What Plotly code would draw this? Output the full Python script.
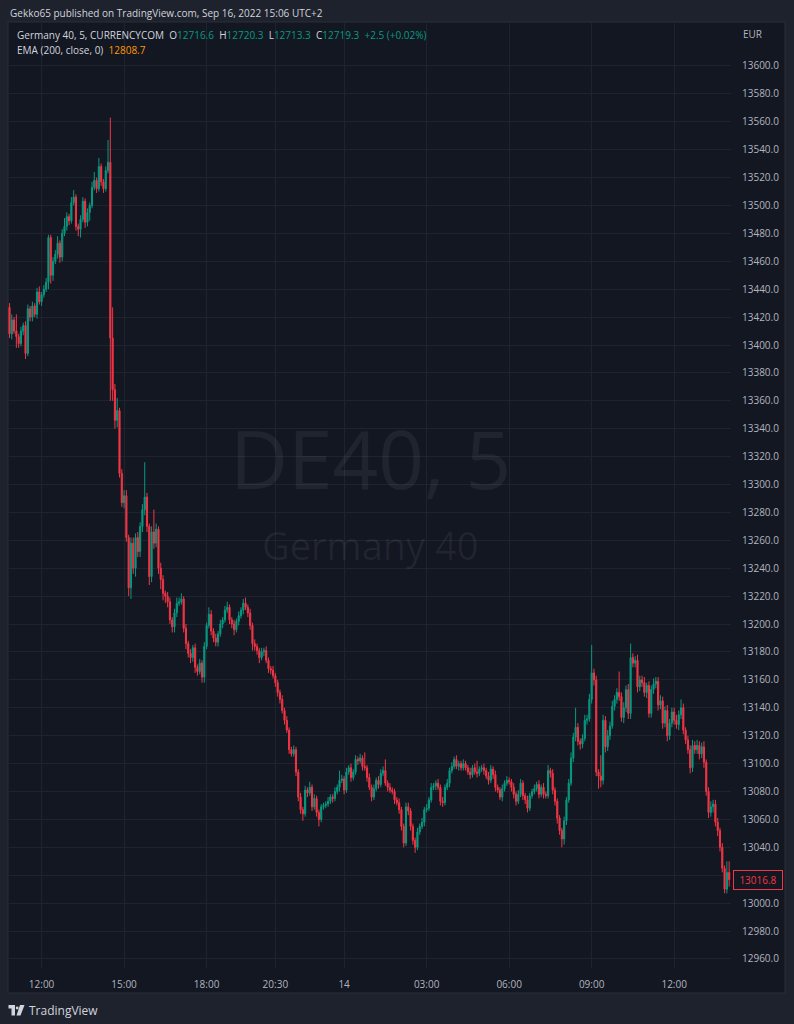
import numpy as np
import plotly.graph_objects as go

W, H = 794, 1024

# ---------------- data ----------------
first_open = 13427.0
closes = [
    13408, 13418, 13410, 13406, 13401, 13410, 13414, 13394, 13426, 13420,
    13428, 13422, 13438, 13431, 13436, 13440, 13445, 13477, 13450, 13460,
    13465, 13473, 13463, 13480, 13485, 13492, 13489, 13502, 13506, 13485,
    13483, 13490, 13503, 13488, 13495, 13500, 13513, 13518, 13512, 13528,
    13517, 13512, 13525, 13531, 13405, 13368, 13346, 13353, 13308, 13287,
    13292, 13262, 13226, 13258, 13240, 13262, 13252, 13270, 13282, 13291,
    13270, 13234, 13266, 13258, 13268, 13240, 13232, 13222, 13220, 13216,
    13203, 13198, 13208, 13215, 13216, 13218, 13197, 13186, 13179, 13176,
    13183, 13169, 13166, 13172, 13162, 13184, 13199, 13207, 13195, 13190,
    13187, 13193, 13200, 13203, 13210, 13212, 13203, 13200, 13196, 13202,
    13206, 13210, 13215, 13212, 13208, 13199, 13186, 13184, 13181, 13176,
    13180, 13181, 13174, 13168, 13167, 13163, 13158, 13151, 13146, 13138,
    13131, 13124, 13110, 13107, 13110, 13094, 13076, 13067, 13064, 13081,
    13079, 13083, 13069, 13075, 13065, 13060, 13069, 13070, 13071, 13073,
    13076, 13075, 13080, 13083, 13088, 13089, 13081, 13094, 13097, 13090,
    13094, 13103, 13102, 13104, 13098, 13097, 13090, 13083, 13076, 13082,
    13088, 13085, 13093, 13095, 13086, 13083, 13081, 13080, 13074, 13072,
    13067, 13055, 13043, 13069, 13066, 13055, 13045, 13040, 13051, 13055,
    13058, 13067, 13068, 13074, 13083, 13084, 13086, 13083, 13073, 13072,
    13083, 13086, 13095, 13098, 13103, 13098, 13100, 13097, 13100, 13097,
    13094, 13092, 13097, 13094, 13093, 13096, 13097, 13095, 13091, 13088,
    13096, 13092, 13083, 13081, 13076, 13082, 13086, 13088, 13087, 13083,
    13078, 13073, 13078, 13086, 13077, 13074, 13068, 13077, 13080, 13082,
    13085, 13078, 13083, 13078, 13077, 13095, 13093, 13081, 13073, 13061,
    13052, 13046, 13059, 13074, 13086, 13104, 13119, 13126, 13116, 13114,
    13118, 13131, 13132, 13146, 13165, 13160, 13094, 13091, 13088, 13131,
    13112, 13120, 13127, 13141, 13146, 13151, 13148, 13133, 13140, 13153,
    13136, 13176, 13172, 13174, 13155, 13160, 13158, 13151, 13156, 13136,
    13153, 13157, 13159, 13142, 13145, 13129, 13138, 13120, 13129, 13137,
    13131, 13128, 13135, 13140, 13124, 13117, 13110, 13097, 13113, 13110,
    13113, 13107, 13112, 13101, 13080, 13065, 13069, 13071, 13058, 13052,
    13040, 13025, 13010, 13022, 13016.8,
]
upper_wick = [
    3, 4, 2, 12, 2, 3, 2, 3, 3, 2,
    3, 2, 3, 4, 2, 3, 3, 2, 2, 3,
    3, 5, 2, 3, 6, 3, 2, 4, 5, 2,
    2, 3, 3, 2, 3, 2, 4, 6, 2, 6,
    2, 2, 3, 16, 32, 22, 4, 9, 2, 3,
    4, 4, 2, 4, 4, 3, 4, 3, 4, 25,
    3, 2, 4, 16, 4, 2, 4, 3, 2, 3,
    3, 2, 3, 4, 3, 4, 2, 3, 2, 3,
    2, 3, 2, 3, 2, 3, 2, 5, 3, 2,
    3, 2, 3, 2, 3, 4, 2, 2, 3, 2,
    3, 2, 3, 4, 2, 3, 2, 3, 2, 2,
    3, 2, 3, 2, 2, 3, 2, 2, 2, 3,
    2, 3, 2, 2, 3, 2, 2, 3, 2, 3,
    2, 4, 2, 3, 2, 2, 2, 2, 2, 3,
    2, 2, 3, 2, 7, 3, 2, 3, 2, 3,
    2, 3, 2, 3, 2, 10, 2, 3, 2, 3,
    2, 3, 3, 3, 8, 2, 3, 2, 2, 2,
    3, 2, 2, 3, 3, 2, 2, 2, 3, 2,
    3, 2, 3, 2, 3, 2, 2, 3, 2, 3,
    2, 3, 2, 3, 2, 3, 2, 2, 3, 2,
    2, 3, 2, 3, 8, 2, 2, 3, 2, 3,
    3, 2, 3, 2, 2, 3, 2, 3, 2, 2,
    3, 2, 3, 3, 2, 2, 3, 2, 2, 3,
    2, 3, 2, 3, 2, 4, 2, 3, 2, 2,
    2, 2, 3, 2, 3, 4, 3, 14, 3, 2,
    3, 4, 3, 4, 20, 3, 3, 2, 15, 4,
    3, 4, 3, 4, 3, 3, 15, 3, 4, 3,
    4, 10, 3, 3, 4, 3, 3, 4, 2, 3,
    3, 4, 3, 3, 4, 3, 3, 4, 3, 3,
    3, 4, 3, 6, 3, 2, 3, 3, 4, 3,
    4, 3, 3, 4, 2, 3, 4, 3, 3, 3,
    2, 3, 2, 8, 8,
]
lower_wick = [
    3, 4, 2, 8, 3, 2, 3, 4, 2, 3,
    3, 2, 3, 2, 3, 2, 2, 5, 6, 4,
    2, 3, 4, 3, 2, 3, 3, 2, 2, 3,
    5, 6, 2, 4, 3, 6, 2, 2, 3, 2,
    3, 3, 2, 2, 45, 8, 6, 5, 3, 3,
    4, 3, 6, 8, 4, 6, 4, 4, 4, 4,
    4, 6, 4, 4, 3, 4, 7, 5, 5, 4,
    3, 4, 4, 3, 2, 2, 3, 4, 3, 4,
    3, 4, 3, 2, 4, 4, 2, 2, 3, 3,
    3, 3, 2, 3, 2, 2, 3, 3, 4, 2,
    3, 2, 3, 2, 3, 3, 5, 3, 3, 4,
    2, 3, 2, 3, 3, 2, 3, 3, 3, 2,
    3, 2, 3, 2, 2, 3, 3, 3, 5, 2,
    3, 2, 3, 2, 3, 5, 2, 2, 2, 2,
    2, 3, 2, 2, 3, 2, 3, 2, 2, 3,
    2, 2, 3, 2, 3, 2, 3, 2, 3, 2,
    2, 3, 2, 2, 2, 3, 2, 2, 3, 2,
    3, 3, 3, 2, 3, 3, 3, 4, 2, 2,
    2, 3, 2, 2, 2, 2, 3, 2, 3, 3,
    2, 2, 3, 2, 2, 2, 3, 2, 2, 2,
    2, 3, 2, 2, 3, 2, 2, 3, 2, 3,
    2, 3, 3, 2, 2, 3, 2, 2, 2, 3,
    3, 3, 2, 2, 3, 3, 3, 2, 2, 2,
    2, 3, 2, 3, 2, 2, 3, 3, 3, 4,
    3, 6, 4, 3, 2, 2, 3, 3, 3, 4,
    3, 2, 3, 2, 3, 4, 3, 9, 5, 3,
    4, 3, 3, 2, 3, 3, 3, 3, 4, 3,
    4, 4, 3, 3, 4, 3, 3, 3, 4, 3,
    3, 3, 3, 4, 3, 4, 3, 4, 3, 3,
    3, 3, 4, 3, 3, 3, 3, 4, 3, 3,
    3, 4, 3, 4, 3, 4, 3, 4, 3, 4,
    3, 3, 3, 3, 5,
]
time_tick_pos = [14, 50, 86, 116, 146, 182, 218, 254, 290]
time_tick_labels = ["12:00", "15:00", "18:00", "20:30", "14", "03:00", "06:00", "09:00", "12:00"]
price_ticks = list(range(12960, 13601, 20))
last_price = 13016.8

# ---------------- build OHLC table ----------------
c = np.array(closes, dtype=float)
o = np.concatenate([[first_open], c[:-1]])
hi = np.maximum(o, c) + np.array(upper_wick, dtype=float)
lo = np.minimum(o, c) - np.array(lower_wick, dtype=float)
idx = np.arange(len(c))

UP = "#089981"
DN = "#f23645"
PANE = "#131722"
OUTER = "#1e222d"
GRID = "#1f2330"
TXT = "#b2b5be"
TXT2 = "#d1d4dc"
FONT = "Open Sans"

def px(x):
    return x / W

def py(y):
    return 1 - y / H

# the price-scale label hidden behind the last-price box in the reference
price_tick_text = ["" if abs(v - last_price) < 10 else f"{v:.1f}" for v in price_ticks]

fig = go.Figure()
fig.add_trace(go.Candlestick(
    x=idx, open=o, high=hi, low=lo, close=c,
    increasing=dict(line=dict(color=UP, width=1), fillcolor=UP),
    decreasing=dict(line=dict(color=DN, width=1), fillcolor=DN),
    whiskerwidth=0, showlegend=False, hoverinfo="skip",
))

x0, x1 = -0.65, 314.8
fig.update_layout(
    width=W, height=H,
    margin=dict(l=0, r=0, t=0, b=0),
    paper_bgcolor=OUTER, plot_bgcolor=PANE,
    font=dict(family=FONT, color=TXT, size=10),
    showlegend=False,
    xaxis=dict(
        domain=[px(8), px(731)], range=[x0, x1],
        rangeslider=dict(visible=False),
        tickmode="array", tickvals=time_tick_pos, ticktext=time_tick_labels,
        showgrid=True, gridcolor=GRID, gridwidth=1, zeroline=False, showline=False,
        ticks="", ticklabelstandoff=9, tickfont=dict(size=10, color=TXT),
        fixedrange=True,
    ),
    yaxis=dict(
        domain=[py(968), py(22)], range=[12953.5, 13631.5],
        side="right", tickmode="array", tickvals=price_ticks,
        ticktext=price_tick_text,
        showgrid=True, gridcolor=GRID, gridwidth=1, zeroline=False, showline=False,
        ticks="", ticklabelstandoff=10, tickfont=dict(size=10, color=TXT),
        fixedrange=True,
    ),
)

shapes = [
    # chart frame (pane + scales)
    dict(type="rect", xref="paper", yref="paper", x0=px(8), x1=px(785), y0=py(993), y1=py(22),
         fillcolor=PANE, line=dict(color="#2a2e39", width=1), layer="below"),
    # TradingView logo (footer)
    dict(type="rect", xref="paper", yref="paper", x0=px(8.5), x1=px(15), y0=py(1008.5), y1=py(1005),
         fillcolor=TXT2, line=dict(width=0)),
    dict(type="rect", xref="paper", yref="paper", x0=px(11.5), x1=px(15), y0=py(1015.5), y1=py(1005),
         fillcolor=TXT2, line=dict(width=0)),
    dict(type="circle", xref="paper", yref="paper", x0=px(15.8), x1=px(18.6), y0=py(1009.4), y1=py(1006.6),
         fillcolor=TXT2, line=dict(width=0)),
    dict(type="path", xref="paper", yref="paper",
         path=f"M {px(20)},{py(1005)} L {px(24.5)},{py(1005)} L {px(20.5)},{py(1015.5)} L {px(16.5)},{py(1015.5)} Z",
         fillcolor=TXT2, line=dict(width=0)),
]
fig.update_layout(shapes=shapes)

nb = "\u00a0"
def g(v):
    return f"<span style='color:{UP}'>{v}</span>"

legend_line = (
    f"Germany 40, 5, CURRENCYCOM{nb}{nb}O{g('12716.6')}{nb}{nb}H{g('12720.3')}{nb}{nb}"
    f"L{g('12713.3')}{nb}{nb}C{g('12719.3')}{nb}{nb}{g('+2.5 (+0.02%)')}"
)

annotations = [
    dict(text="Gekko65 published on TradingView.com, Sep 16, 2022 15:06 UTC+2",
         x=px(8), y=py(13), xanchor="left", yanchor="middle",
         font=dict(size=10, color=TXT2)),
    dict(text=legend_line, x=px(15), y=py(35), xanchor="left", yanchor="middle",
         font=dict(size=10, color=TXT2)),
    dict(text=f"EMA (200, close, 0){nb}{nb}<span style='color:#ff9800'>12808.7</span>",
         x=px(15), y=py(50), xanchor="left", yanchor="middle",
         font=dict(size=10, color=TXT2)),
    dict(text="EUR", x=px(741), y=py(34), xanchor="left", yanchor="middle",
         font=dict(size=10, color=TXT)),
    dict(text="DE40, 5", x=px(370), y=py(457), xanchor="center", yanchor="middle",
         font=dict(size=80, color="rgba(255,255,255,0.06)")),
    dict(text="Germany 40", x=px(370), y=py(545), xanchor="center", yanchor="middle",
         font=dict(size=38, color="rgba(255,255,255,0.06)")),
    dict(text="TradingView", x=px(27), y=py(1010), xanchor="left", yanchor="middle",
         font=dict(size=12, color=TXT2)),
    dict(text=f"{last_price:.1f}", xref="paper", yref="y", x=px(733), y=last_price,
         xanchor="left", yanchor="middle", showarrow=False, width=44, align="center",
         font=dict(size=10, color=DN), bgcolor=PANE, bordercolor=DN, borderwidth=1, borderpad=2),
]
for a in annotations:
    a.setdefault("xref", "paper")
    a.setdefault("yref", "paper")
    a.setdefault("showarrow", False)
fig.update_layout(annotations=annotations)

fig.write_html(
    "out.html",
    config={"displayModeBar": False},
    post_script="document.body.style.margin='0px';document.body.style.overflow='hidden';",
)
